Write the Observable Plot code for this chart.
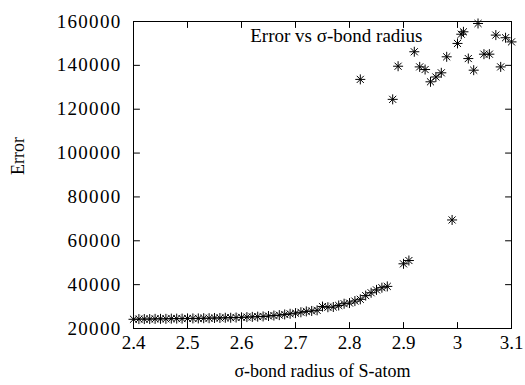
<!DOCTYPE html>
<html>
<head>
<meta charset="utf-8">
<script src="https://cdn.jsdelivr.net/npm/d3@7"></script>
<script src="https://cdn.jsdelivr.net/npm/@observablehq/plot@0.6"></script>
<style>
  html, body { margin: 0; padding: 0; background: white; }
  g[aria-label="y-axis tick label"] text { letter-spacing: 1.3px; }
</style>
</head>
<body>
<div id="chart"></div>
<script>
const radius = [
  2.40, 2.41, 2.42, 2.43, 2.44, 2.45, 2.46, 2.47, 2.48, 2.49,
  2.50, 2.51, 2.52, 2.53, 2.54, 2.55, 2.56, 2.57, 2.58, 2.59,
  2.60, 2.61, 2.62, 2.63, 2.64, 2.65, 2.66, 2.67, 2.68, 2.69,
  2.70, 2.71, 2.72, 2.73, 2.74, 2.75, 2.76, 2.77, 2.78, 2.79,
  2.80, 2.81, 2.82, 2.83, 2.84, 2.85, 2.86, 2.87,
  2.90, 2.91, 2.99,
  2.82, 2.88, 2.89, 2.92, 2.93, 2.94, 2.95, 2.96, 2.97, 2.98,
  3.00, 3.007, 3.011, 3.02, 3.03, 3.038, 3.049, 3.059, 3.071, 3.08,
  3.089, 3.10
];
const error = [
  24200, 24300, 24300, 24300, 24400, 24400, 24400, 24500, 24500, 24500,
  24600, 24600, 24600, 24700, 24700, 24800, 24800, 24900, 24900, 25000,
  25100, 25200, 25300, 25400, 25500, 25700, 25900, 26100, 26400, 26700,
  27000, 27400, 27800, 28000, 28300, 30000, 29700, 29800, 30500, 31300,
  31600, 32500, 33300, 35000, 36300, 37600, 38600, 39200,
  49500, 51000, 69500,
  133600, 124500, 139600, 146200, 139300, 138100, 132500, 134700, 136600, 143900,
  150000, 154200, 155300, 143100, 137800, 159100, 145100, 145100, 153800, 139300,
  152600, 150700
];
const xTicks = [2.4, 2.5, 2.6, 2.7, 2.8, 2.9, 3.0, 3.1];
const yTicks = [20000, 40000, 60000, 80000, 100000, 120000, 140000, 160000];
const titleText = "Error vs σ-bond radius";
const xLabel = "σ-bond radius of S-atom";
const yLabel = "Error";

const data = radius.map((r, i) => ({r, e: error[i]}));

// gnuplot-style asterisk: + and x overlaid
const star = {
  draw(context, size) {
    const r = Math.sqrt(size / Math.PI);
    const d = r * Math.SQRT1_2;
    context.moveTo(-r, 0); context.lineTo(r, 0);
    context.moveTo(0, -r); context.lineTo(0, r);
    context.moveTo(-d, -d); context.lineTo(d, d);
    context.moveTo(-d, d); context.lineTo(d, -d);
  }
};
const tickShape = {
  draw(context, l) { context.moveTo(0, 0); context.lineTo(0, -l); }
};
const tickOpts = {length: 6, anchor: "start", shape: tickShape, stroke: "black", strokeWidth: 1};
const serif = "Liberation Serif";
const fs = 19;

const chart = Plot.plot({
  width: 525,
  height: 385,
  marginLeft: 133,
  marginRight: 14,
  marginTop: 21,
  marginBottom: 57,
  style: {fontFamily: serif, fontSize: "19px", background: "white", color: "black"},
  x: {domain: [2.4, 3.1]},
  y: {domain: [20000, 160000]},
  marks: [
    Plot.axisX(xTicks, {tickSize: 0, tickPadding: 7, label: null, tickFormat: d => String(d), fill: "black", fontSize: fs}),
    Plot.axisY(yTicks, {tickSize: 0, tickPadding: 12, label: null, tickFormat: d => String(d), fill: "black", fontSize: fs}),
    Plot.vector(xTicks, {x: d => d, frameAnchor: "bottom", rotate: 0, ...tickOpts}),
    Plot.vector(xTicks, {x: d => d, frameAnchor: "top", rotate: 180, ...tickOpts}),
    Plot.vector(yTicks, {y: d => d, frameAnchor: "left", rotate: 90, ...tickOpts}),
    Plot.vector(yTicks, {y: d => d, frameAnchor: "right", rotate: 270, ...tickOpts}),
    Plot.dot(data, {x: "r", y: "e", symbol: star, r: 5, stroke: "black", strokeWidth: 1, fill: "none"}),
    Plot.frame({stroke: "black", strokeWidth: 1}),
    Plot.text([titleText], {text: d => d, frameAnchor: "top-right", dx: -89, dy: 14, textAnchor: "end", lineAnchor: "middle", fill: "black", fontSize: fs}),
    Plot.text([xLabel], {text: d => d, frameAnchor: "bottom", dy: 43, lineAnchor: "middle", fill: "black", fontSize: 18}),
    Plot.text([yLabel], {text: d => d, frameAnchor: "left", dx: -115, rotate: -90, lineAnchor: "middle", fill: "black", fontSize: 18})
  ]
});
document.getElementById("chart").appendChild(chart);
</script>
</body>
</html>
